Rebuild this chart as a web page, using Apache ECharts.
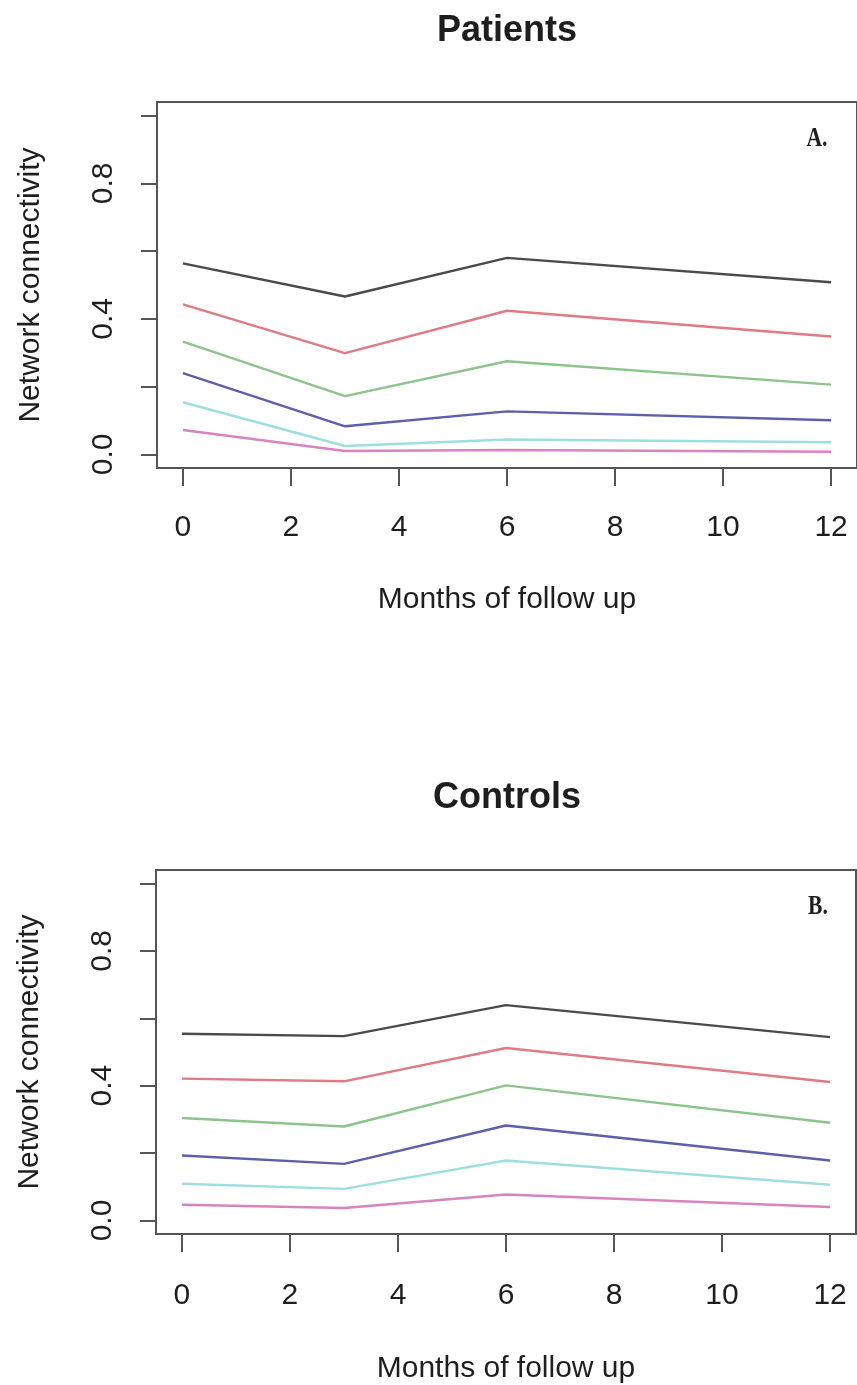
<!DOCTYPE html>
<html>
<head>
<meta charset="utf-8">
<script src="https://cdn.jsdelivr.net/npm/echarts@6/dist/echarts.min.js"></script>
<style>
html,body{margin:0;padding:0;background:#fff;}
#chart{width:857px;height:1385px;}
</style>
</head>
<body>
<div id="chart"></div>
<script>
// ---- data ----
const months = [0, 3, 6, 12];
const xTicks = [0, 2, 4, 6, 8, 10, 12];
const yTicks = [0, 0.2, 0.4, 0.6, 0.8, 1.0];
const yTickLabels = [0, 0.4, 0.8];

const patientsBlack   = [0.564, 0.466, 0.580, 0.508];
const patientsRed     = [0.443, 0.299, 0.424, 0.348];
const patientsGreen   = [0.333, 0.172, 0.275, 0.206];
const patientsBlue    = [0.240, 0.083, 0.127, 0.101];
const patientsCyan    = [0.154, 0.025, 0.044, 0.036];
const patientsMagenta = [0.072, 0.010, 0.013, 0.008];

const controlsBlack   = [0.554, 0.547, 0.639, 0.544];
const controlsRed     = [0.421, 0.413, 0.512, 0.411];
const controlsGreen   = [0.304, 0.279, 0.401, 0.290];
const controlsBlue    = [0.193, 0.168, 0.282, 0.178];
const controlsCyan    = [0.109, 0.094, 0.178, 0.106];
const controlsMagenta = [0.047, 0.037, 0.077, 0.040];

const colors = ['#4a4a4a', '#e07a86', '#8cc48c', '#5e5eae', '#9fdede', '#d884c0'];

// ---- chart ----
const FONT = "'Liberation Sans', Arial, Helvetica, sans-serif";
const SERIF = "'Liberation Serif', 'DejaVu Serif', serif";
const TXT = '#1e1e1e';
const BOX = '#555555';

function xAxisDef(gridIndex, labelMargin, nameGap) {
  return {
    type: 'value', gridIndex: gridIndex, min: -0.48, max: 12.48,
    name: 'Months of follow up', nameLocation: 'middle', nameGap: nameGap,
    nameTextStyle: {fontFamily: FONT, fontSize: 30, color: TXT},
    axisLine: {show: false, onZero: false},
    splitLine: {show: false},
    axisTick: {show: true, inside: false, length: 18, customValues: xTicks,
      lineStyle: {color: BOX, width: 2}},
    axisLabel: {show: true, customValues: xTicks, margin: labelMargin,
      fontFamily: FONT, fontSize: 30, color: TXT,
      formatter: v => String(v)}
  };
}
function yAxisDef(gridIndex) {
  return {
    type: 'value', gridIndex: gridIndex, min: -0.04, max: 1.04,
    name: 'Network connectivity', nameLocation: 'middle', nameGap: 111,
    nameRotate: 90,
    nameTextStyle: {fontFamily: FONT, fontSize: 30, color: TXT},
    axisLine: {show: false, onZero: false},
    splitLine: {show: false},
    axisTick: {show: true, inside: false, length: 16, customValues: yTicks,
      lineStyle: {color: BOX, width: 2}},
    axisLabel: {show: true, customValues: yTickLabels, rotate: 90, margin: 38,
      fontFamily: FONT, fontSize: 30, color: TXT,
      formatter: v => v.toFixed(1)}
  };
}
function lineSeries(arr, color, idx) {
  return {
    type: 'line', xAxisIndex: idx, yAxisIndex: idx,
    data: months.map((m, i) => [m, arr[i]]),
    symbol: 'none', silent: true, clip: false,
    lineStyle: {color: color, width: 2.4},
    itemStyle: {color: color}
  };
}
function label(text, x, y, font, sx) {
  return {type: 'text', x: x, y: y, silent: true, scaleX: sx || 1,
    style: {text: text, font: font, fill: TXT, align: 'center', verticalAlign: 'middle'}};
}

const chart = echarts.init(document.getElementById('chart'), null, {renderer: 'canvas'});
const patients = [patientsBlack, patientsRed, patientsGreen, patientsBlue, patientsCyan, patientsMagenta];
const controls = [controlsBlack, controlsRed, controlsGreen, controlsBlue, controlsCyan, controlsMagenta];

chart.setOption({
  animation: false,
  backgroundColor: '#ffffff',
  graphic: [
    label('Patients', 507, 31, 'bold 36px ' + FONT),
    label('Controls', 507, 798, 'bold 36px ' + FONT),
    label('A.', 817, 139, 'bold 27px ' + SERIF, 0.8),
    label('B.', 818, 907, 'bold 27px ' + SERIF, 0.8)
  ],
  grid: [
    {left: 157, top: 102, width: 700, height: 366, show: true,
      borderColor: BOX, borderWidth: 2, backgroundColor: 'transparent'},
    {left: 156, top: 870, width: 700, height: 364, show: true,
      borderColor: BOX, borderWidth: 2, backgroundColor: 'transparent'}
  ],
  xAxis: [xAxisDef(0, 45, 117), xAxisDef(1, 47, 120)],
  yAxis: [yAxisDef(0), yAxisDef(1)],
  series: patients.map((a, i) => lineSeries(a, colors[i], 0))
    .concat(controls.map((a, i) => lineSeries(a, colors[i], 1)))
});
</script>
</body>
</html>
